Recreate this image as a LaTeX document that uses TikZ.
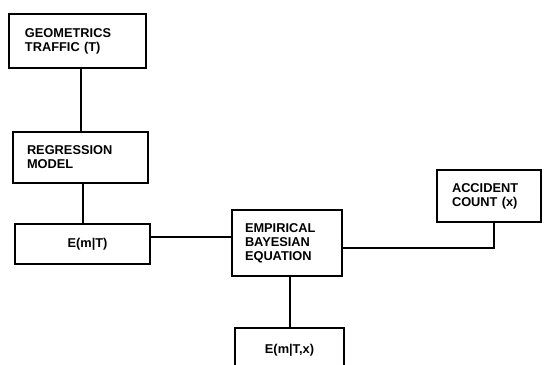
\documentclass[tikz,border=0pt]{standalone}
\usepackage{fontspec}
\setmainfont{Liberation Sans}
\usepackage{tikz}
\usetikzlibrary{positioning,calc}
\tikzset{
  blk/.style={draw, line width=1pt, rectangle, inner ysep=0pt,
              font=\fontsize{6.4}{7}\selectfont\bfseries, align=left},
  blkc/.style={blk, align=center, inner xsep=0pt},
  wire/.style={line width=1pt}
}

\begin{document}
\begin{tikzpicture}[x=0.5pt,y=0.5pt]
\useasboundingbox (0,0) rectangle (544,364);
\node (geo) [blk, inner xsep=8pt, text width=52.5pt, minimum height=27pt] at (77.5,323) {GEOMETRICS\\TRAFFIC (T)};
\node (reg) [blk, inner xsep=7pt, text width=53.5pt, minimum height=25.5pt] at (80.5,206.5) {REGRESSION\\MODEL};
\node (emt) [blkc, minimum width=67.5pt, minimum height=20pt] at (82.5,120) {\hspace*{5pt}E(m|T)};
\node (eb) [blk, inner xsep=6.5pt, text width=42pt, minimum height=33pt] at (287,121) {EMPIRICAL\\BAYESIAN\\EQUATION};
\node (acc) [blk, inner xsep=7.5pt, text width=37pt, minimum height=26pt] at (489,168) {ACCIDENT\\COUNT (x)};
\node (out) [blkc, minimum width=54.5pt, minimum height=22pt] at (289.5,14) {E(m|T,x)};
% connectors
\draw[wire] (reg.north) -- (reg.north |- geo.south);
\draw[wire] (emt.north) -- (emt.north |- reg.south);
\draw[wire] ([yshift=3.5pt]emt.east) -- ([yshift=3.5pt]emt.east -| eb.west);
\draw[wire] ([yshift=-2.5pt]eb.east) -| ([xshift=2.5pt]acc.south);
\draw[wire] (out.north) -- (out.north |- eb.south);
\end{tikzpicture}
\end{document}
